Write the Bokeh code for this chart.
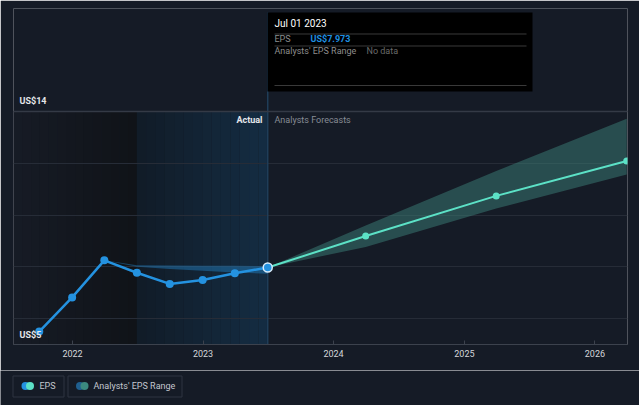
import datetime as dt
from bokeh.plotting import figure
from bokeh.layouts import column
from bokeh.models import Range1d, FixedTicker, Span
from bokeh.core.properties import value
from bokeh.embed import file_html
from bokeh.resources import INLINE

# ---------------- data ----------------
actual_dates = ["2021-09-30", "2021-12-31", "2022-03-31", "2022-06-30",
                "2022-09-30", "2022-12-31", "2023-03-31", "2023-07-01"]
actual_eps = [5.50, 6.82, 8.25, 7.77, 7.34, 7.49, 7.75, 7.973]

forecast_dates = ["2023-07-01", "2024-03-31", "2025-03-31", "2026-03-31"]
forecast_eps = [7.973, 9.19, 10.74, 12.09]
forecast_high = [7.973, 9.60, 11.70, 13.72]
forecast_low = [7.973, 8.77, 10.25, 11.57]

past_range_dates = ["2022-03-31", "2022-06-30", "2022-09-30",
                    "2022-12-31", "2023-03-31", "2023-07-01"]
past_range_high = [8.25, 8.06, 8.05, 8.04, 8.04, 8.03]
past_range_low = [8.25, 8.00, 7.92, 7.85, 7.78, 7.73]

x_tick_dates = ["2022-01-01", "2023-01-01", "2024-01-01", "2025-01-01", "2026-01-01"]
x_tick_labels = ["2022", "2023", "2024", "2025", "2026"]
y_grid_values = [6, 8, 10, 12, 14]
y_label_values = [14, 5]
y_label_texts = ["US$14", "US$5"]

region_split_date = "2022-06-30"   # start of highlighted (past-year) region
current_date = "2023-07-01"

# ---------------- helpers ----------------
EPOCH = dt.datetime(1970, 1, 1)


def ms(s):
    return (dt.datetime.fromisoformat(s) - EPOCH).total_seconds() * 1000.0


PX_PER_MS = 130.6 / (365.25 * 86400000.0)
REF_MS = ms("2022-01-01")
REF_PX = 72.0


def XP(px):  # page pixel -> data x (layout helper for annotations)
    return REF_MS + (px - REF_PX) / PX_PER_MS


def YP(py):  # page pixel -> data y
    return 14 - (py - 111.0) / 25.889


def hex2rgb(h):
    h = h.lstrip("#")
    return tuple(int(h[i:i + 2], 16) for i in (0, 2, 4))


def lerp(c1, c2, t):
    a, b = hex2rgb(c1), hex2rgb(c2)
    return "#%02x%02x%02x" % tuple(round(a[i] + (b[i] - a[i]) * t) for i in range(3))


BG = "#151b26"
FONT = "Roboto"
EPS_BLUE = "#2492e0"
TEAL = "#5ce1c6"

x_start, x_end = XP(13), XP(627)

p = figure(width=639, height=370, output_backend="svg", toolbar_location=None,
           x_range=Range1d(x_start, x_end), y_range=Range1d(5.0, YP(8)),
           min_border_left=13, min_border_right=12, min_border_top=8, min_border_bottom=26,
           background_fill_color=BG, border_fill_color=BG, outline_line_color=None)
p.frame_align = False

# shaded regions (gradients as strips)
N = 14
split = ms(region_split_date)
cur = ms(current_date)
for i in range(N):
    l = x_start + (split - x_start) * i / N
    r = x_start + (split - x_start) * (i + 1) / N
    p.quad(left=[l], right=[r], bottom=[5.0], top=[14], fill_color=lerp("#161b25", "#101318", i / (N - 1)),
           line_color=None, level="image")
for i in range(N):
    l = split + (cur - split) * i / N
    r = split + (cur - split) * (i + 1) / N
    p.quad(left=[l], right=[r], bottom=[5.0], top=[14], fill_color=lerp("#111c28", "#142c42", i / (N - 1)),
           line_color=None, level="image")

# grid
p.ygrid.ticker = FixedTicker(ticks=y_grid_values)
p.ygrid.grid_line_color = "#262c37"
p.ygrid.grid_line_width = 1
p.xgrid.visible = False
p.add_layout(Span(location=14, dimension="width", line_color="#343a46", line_width=1.5))

# current-date vertical line
p.segment(x0=[cur], x1=[cur], y0=[5.0], y1=[YP(12)], line_color="#1f3d58", line_width=1.5)

# past range band
p.varea(x=[ms(d) for d in past_range_dates], y1=past_range_low, y2=past_range_high,
        fill_color=EPS_BLUE, fill_alpha=0.38)

# forecast band
fx = [ms(d) for d in forecast_dates]
p.varea(x=fx, y1=forecast_low, y2=forecast_high, fill_color="#3c8078", fill_alpha=0.5)

# EPS actual
ax = [ms(d) for d in actual_dates]
p.line(ax, actual_eps, line_color=EPS_BLUE, line_width=2.5, line_join="round")
p.scatter(ax[:-1], actual_eps[:-1], size=8, fill_color=EPS_BLUE, line_color=None)

# forecast line
p.line(fx, forecast_eps, line_color=TEAL, line_width=2, line_join="round")
p.scatter(fx[1:], forecast_eps[1:], size=7, fill_color=TEAL, line_color=None)

# last actual point
p.scatter([ax[-1]], [actual_eps[-1]], size=9, fill_color=EPS_BLUE, line_color="#d8ecfb", line_width=1.5)

# y labels
p.text(x=[XP(19)] * len(y_label_values), y=[YP(101), YP(335)], text=y_label_texts,
       text_font=value(FONT), text_font_size="9px", text_color="#e4e6ea",
       text_baseline="middle", text_align="left", text_font_style="bold")

# Actual / Analysts Forecasts
p.text(x=[XP(262)], y=[YP(120)], text=["Actual"], text_font=value(FONT), text_font_size="9px",
       text_color="#e6e8ec", text_baseline="middle", text_align="right", text_font_style="bold")
p.text(x=[XP(274)], y=[YP(120)], text=["Analysts Forecasts"], text_font=value(FONT), text_font_size="9px",
       text_color="#878c95", text_baseline="middle", text_align="left")

# tooltip
p.quad(left=[XP(267)], right=[XP(532)], top=[YP(12)], bottom=[YP(91)], fill_color="#000000", line_color=None)
p.segment(x0=[XP(274)] * 3, x1=[XP(526)] * 3, y0=[YP(33.5), YP(45.5), YP(85)], y1=[YP(33.5), YP(45.5), YP(85)],
          line_color="#3a3a3a", line_width=1)
last_date = dt.datetime.fromisoformat(actual_dates[-1]).strftime("%b %d %Y")
p.text(x=[XP(274)], y=[YP(23)], text=[last_date], text_font=value(FONT), text_font_size="10px",
       text_color="#ffffff", text_baseline="middle", text_align="left")
p.text(x=[XP(274), XP(274)], y=[YP(39), YP(51)], text=["EPS", "Analysts' EPS Range"], text_font=value(FONT),
       text_font_size="9px", text_color="#8d8d8d", text_baseline="middle", text_align="left")
p.text(x=[XP(310)], y=[YP(39)], text=["US$%.3f" % actual_eps[-1]], text_font=value(FONT), text_font_size="9px",
       text_color="#1f8fe0", text_baseline="middle", text_align="left", text_font_style="bold")
p.text(x=[XP(366)], y=[YP(51)], text=["No data"], text_font=value(FONT), text_font_size="9px",
       text_color="#6a6a6a", text_baseline="middle", text_align="left")

# axes
p.yaxis.visible = False
xa = p.xaxis[0]
tick_ms = [ms(d) for d in x_tick_dates]
xa.ticker = FixedTicker(ticks=tick_ms)
xa.major_label_overrides = {t: lab for t, lab in zip(tick_ms, x_tick_labels)}
xa.axis_line_color = "#3c424d"
xa.major_tick_line_color = "#3c424d"
xa.major_tick_in = 4
xa.major_tick_out = 0
xa.minor_tick_line_color = None
xa.major_label_text_color = "#d4d6da"
xa.major_label_text_font = FONT
xa.major_label_text_font_size = "9px"
xa.major_label_standoff = 5

# ---------------- legend figure ----------------
leg = figure(width=639, height=35, output_backend="svg", toolbar_location=None,
             x_range=Range1d(0, 639), y_range=Range1d(35, 0), x_axis_type=None, y_axis_type=None,
             min_border=0, background_fill_color=BG, border_fill_color=BG, outline_line_color=None)
leg.frame_align = False
leg.grid.visible = False
legend_labels = ["EPS", "Analysts' EPS Range"]
leg.quad(left=[12.5, 67.5], right=[63.5, 181.5], top=[5.5, 5.5], bottom=[26.5, 26.5], fill_color=None,
         line_color="#2e3440", line_width=1)
leg.scatter([25], [15.5], size=8, fill_color=EPS_BLUE, line_color=None)
leg.scatter([29.5], [15.5], size=8, fill_color=TEAL, line_color=None)
leg.scatter([79.5], [15.5], size=8, fill_color="#1f5f8f", line_color=None)
leg.scatter([84], [15.5], size=8, fill_color="#3c8a80", line_color=None)
leg.text(x=[39, 93], y=[15.5, 15.5], text=legend_labels, text_font=value(FONT), text_font_size="9px",
         text_color="#c3c7ce", text_baseline="middle", text_align="left")

layout = column(p, leg, spacing=0)
html = file_html(layout, INLINE)
html = html.replace("<body", '<body style="background-color:#151b26;"', 1)
open("out.html", "w").write(html)
